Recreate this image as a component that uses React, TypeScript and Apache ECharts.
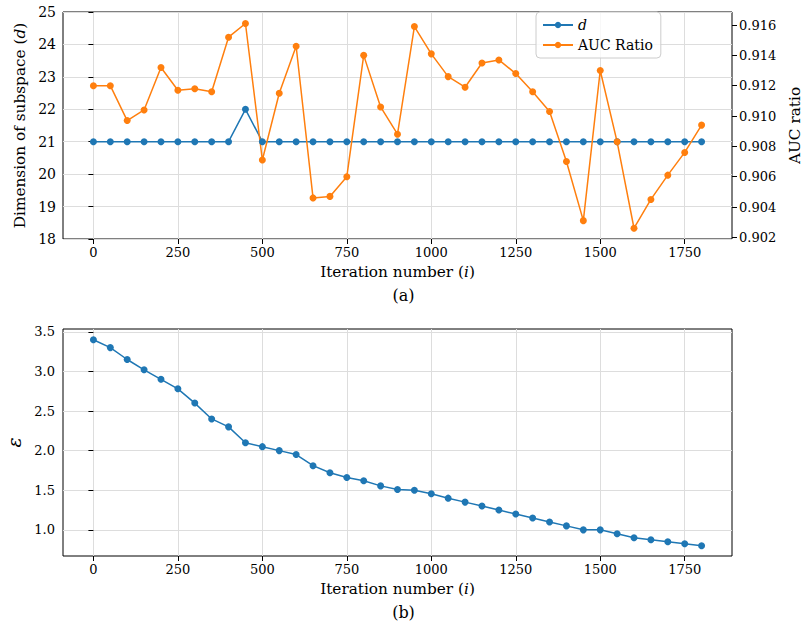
import React, { useEffect, useRef } from "react";
import * as echarts from "echarts";

const iterations = [0, 50, 100, 150, 200, 250, 300, 350, 400, 450, 500, 550, 600, 650, 700, 750, 800, 850, 900, 950, 1000, 1050, 1100, 1150, 1200, 1250, 1300, 1350, 1400, 1450, 1500, 1550, 1600, 1650, 1700, 1750, 1800];
const dValues = [21, 21, 21, 21, 21, 21, 21, 21, 21, 22, 21, 21, 21, 21, 21, 21, 21, 21, 21, 21, 21, 21, 21, 21, 21, 21, 21, 21, 21, 21, 21, 21, 21, 21, 21, 21, 21];
const aucRatio = [0.9120, 0.9120, 0.9097, 0.9104, 0.9132, 0.9117, 0.9118, 0.9116, 0.9152, 0.9161, 0.9071, 0.9115, 0.9146, 0.9046, 0.9047, 0.9060, 0.9140, 0.9106, 0.9088, 0.9159, 0.9141, 0.9126, 0.9119, 0.9135, 0.9137, 0.9128, 0.9116, 0.9103, 0.9070, 0.9031, 0.9130, 0.9083, 0.9026, 0.9045, 0.9061, 0.9076, 0.9094];
const epsilon = [3.40, 3.30, 3.15, 3.02, 2.90, 2.78, 2.60, 2.40, 2.30, 2.10, 2.05, 2.00, 1.95, 1.81, 1.72, 1.66, 1.62, 1.555, 1.51, 1.50, 1.455, 1.40, 1.35, 1.30, 1.25, 1.20, 1.15, 1.10, 1.05, 1.00, 1.00, 0.95, 0.90, 0.875, 0.85, 0.825, 0.80];

const xTicks = [0, 250, 500, 750, 1000, 1250, 1500, 1750];
const dTicks = [18, 19, 20, 21, 22, 23, 24, 25];
const aucTicks = [0.902, 0.904, 0.906, 0.908, 0.910, 0.912, 0.914, 0.916];
const epsTicks = [1.0, 1.5, 2.0, 2.5, 3.0, 3.5];

const SERIF = "'DejaVu Serif', serif";
const BLUE = "#1f77b4";
const ORANGE = "#ff7f0e";
const GRID_COLOR = "#dddddd";
const NAME_SIZE = 15.3;

const nameRich = {
  n: { fontFamily: SERIF, fontSize: NAME_SIZE, color: "#000" },
  i: { fontFamily: SERIF, fontSize: NAME_SIZE, fontStyle: "italic", color: "#000" },
};

function xAxisDef(gridIndex: number) {
  return {
    type: "value",
    gridIndex,
    min: -90,
    max: 1890,
    axisLine: { show: false },
    axisTick: { show: true, length: 5, customValues: xTicks, lineStyle: { color: "#000" } },
    axisLabel: {
      customValues: xTicks,
      margin: 7,
      color: "#000",
      fontFamily: SERIF,
      fontSize: 13,
      formatter: (v: number) => String(v),
    },
    splitLine: { show: true, lineStyle: { color: GRID_COLOR, width: 1 } },
    name: "{n|Iteration number (}{i|i}{n|)}",
    nameLocation: "middle",
    nameGap: 25,
    nameTextStyle: { rich: nameRich },
  };
}

export default function App() {
  const ref = useRef<HTMLDivElement>(null);
  useEffect(() => {
    if (!ref.current) return;
    const chart = echarts.init(ref.current, null, { renderer: "svg" });
    const option = {
      animation: false,
      backgroundColor: "#fff",
      textStyle: { fontFamily: SERIF },
      grid: [
        { left: 63, top: 12, width: 669, height: 227, show: true, borderColor: "#000", borderWidth: 1, backgroundColor: "transparent", containLabel: false, outerBoundsMode: "none" },
        { left: 63, top: 329, width: 669, height: 227, show: true, borderColor: "#000", borderWidth: 1, backgroundColor: "transparent", containLabel: false, outerBoundsMode: "none" },
      ],
      xAxis: [xAxisDef(0), xAxisDef(1)],
      yAxis: [
        {
          type: "value",
          gridIndex: 0,
          min: dTicks[0],
          max: dTicks[dTicks.length - 1],
          interval: 1,
          axisLine: { show: false },
          axisTick: { show: true, length: 5, lineStyle: { color: "#000" } },
          axisLabel: { margin: 7, color: "#000", fontFamily: SERIF, fontSize: 14 },
          splitLine: { show: true, lineStyle: { color: GRID_COLOR, width: 1 } },
          name: "{n|Dimension of subspace (}{i|d}{n|)}",
          nameLocation: "middle",
          nameGap: 33,
          nameTextStyle: { rich: nameRich },
        },
        {
          type: "value",
          gridIndex: 0,
          position: "right",
          min: 0.90189,
          max: 0.91686,
          axisLine: { show: false },
          axisTick: { show: true, length: 5, customValues: aucTicks, lineStyle: { color: "#000" } },
          axisLabel: {
            customValues: aucTicks,
            margin: 7,
            color: "#000",
            fontFamily: SERIF,
            fontSize: 13,
            formatter: (v: number) => v.toFixed(3),
          },
          splitLine: { show: false },
          name: "{n|AUC ratio}",
          nameLocation: "middle",
          nameGap: 47,
          nameTextStyle: { rich: nameRich },
        },
        {
          type: "value",
          gridIndex: 1,
          min: 0.67,
          max: 3.535,
          axisLine: { show: false },
          axisTick: { show: true, length: 5, customValues: epsTicks, lineStyle: { color: "#000" } },
          axisLabel: {
            customValues: epsTicks,
            margin: 8,
            color: "#000",
            fontFamily: SERIF,
            fontSize: 13,
            formatter: (v: number) => v.toFixed(1),
          },
          splitLine: { show: true, lineStyle: { color: GRID_COLOR, width: 1 } },
          name: "{i|ε}",
          nameLocation: "middle",
          nameGap: 39,
          nameTextStyle: { rich: { i: { fontFamily: SERIF, fontSize: 19, fontStyle: "italic", color: "#000" } } },
        },
      ],
      legend: {
        orient: "vertical",
        left: 536,
        top: 12,
        data: ["d", "AUC Ratio"],
        itemWidth: 30,
        itemHeight: 8,
        itemGap: 6,
        padding: [6, 8, 6, 6],
        borderColor: "#cccccc",
        borderWidth: 1,
        borderRadius: 4,
        backgroundColor: "rgba(255,255,255,0.8)",
        formatter: (name: string) => (name === "d" ? "{i|d}" : "{n|" + name + "}"),
        textStyle: {
          color: "#000",
          fontFamily: SERIF,
          fontSize: 14,
          rich: {
            i: { fontFamily: SERIF, fontSize: 14, fontStyle: "italic", color: "#000" },
            n: { fontFamily: SERIF, fontSize: 14, color: "#000" },
          },
        },
      },
      series: [
        {
          name: "d",
          type: "line",
          xAxisIndex: 0,
          yAxisIndex: 0,
          data: iterations.map((x, i) => [x, dValues[i]]),
          symbol: "circle",
          symbolSize: 7,
          lineStyle: { color: BLUE, width: 1.5 },
          itemStyle: { color: BLUE },
        },
        {
          name: "AUC Ratio",
          type: "line",
          xAxisIndex: 0,
          yAxisIndex: 1,
          data: iterations.map((x, i) => [x, aucRatio[i]]),
          symbol: "circle",
          symbolSize: 7,
          lineStyle: { color: ORANGE, width: 1.5 },
          itemStyle: { color: ORANGE },
        },
        {
          name: "epsilon",
          type: "line",
          xAxisIndex: 1,
          yAxisIndex: 2,
          data: iterations.map((x, i) => [x, epsilon[i]]),
          symbol: "circle",
          symbolSize: 7,
          lineStyle: { color: BLUE, width: 1.5 },
          itemStyle: { color: BLUE },
        },
      ],
      graphic: [
        {
          type: "text",
          left: "center",
          top: 287,
          style: { text: "(a)", fontFamily: SERIF, fontSize: 16, fill: "#000" },
        },
        {
          type: "text",
          left: "center",
          top: 604,
          style: { text: "(b)", fontFamily: SERIF, fontSize: 16, fill: "#000" },
        },
      ],
    };
    chart.setOption(option as any);
    return () => chart.dispose();
  }, []);
  return (
    <div
      ref={ref}
      style={{ position: "fixed", left: 0, top: 0, width: 807, height: 629, background: "#fff" }}
    />
  );
}
